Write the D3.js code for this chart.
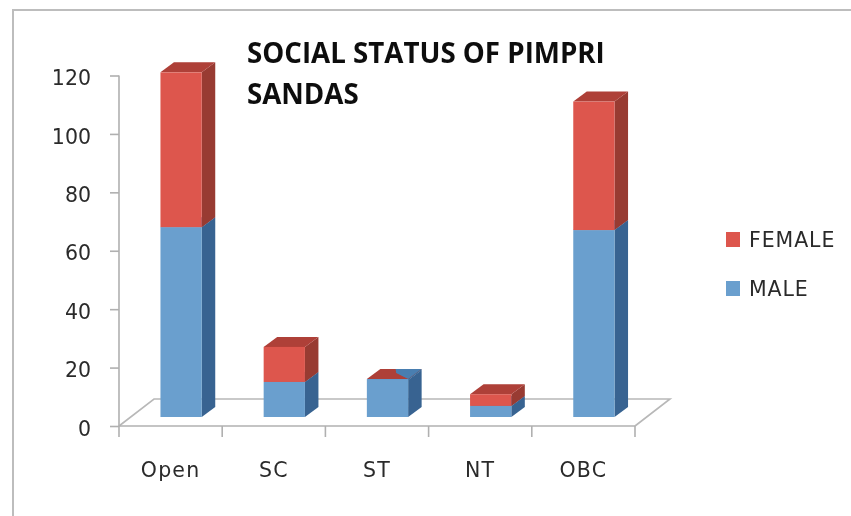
<!DOCTYPE html>
<html>
<head>
    <meta charset="utf-8">
    <style>
        body { margin: 0; padding: 0; overflow: hidden; background-color: #fff; }
        svg { display: block; }
        text { font-family: "DejaVu Sans", sans-serif; fill: #2b2b2b; }
        .title { font-family: "Open Sans", sans-serif; font-weight: 700; font-size: 27.7px; fill: #111; }
        .axis path, .axis line { stroke: #b0b0b0; stroke-width: 1.6; }
        .axis text { font-size: 20.5px; }
    </style>
</head>
<body>
    <div id="chart"></div>
    <script src="https://d3js.org/d3.v7.min.js"></script>
    <script>
        var categories = ["Open", "SC", "ST", "NT", "OBC"];
        var male = [65, 12, 12.7, 3.8, 64];
        var female = [53, 12, 0.3, 4, 44];
        var yTicks = [0, 20, 40, 60, 80, 100, 120];
        var titleLines = ["SOCIAL STATUS OF PIMPRI", "SANDAS"];
        var legendLabels = ["FEMALE", "MALE"];

        var width = 851, height = 516;
        var depthX = 13.5, depthY = 10;   // how far the 3d faces lean back
        var floorX = 35, floorY = 27;     // floor of the fake 3d box
        var baseDrop = 9;                 // front of the bars sits above the axis line

        var colors = {
            male: { front: "#6a9fce", side: "#376391", top: "#4a7eb0" },
            female: { front: "#dd574e", side: "#983a32", top: "#ae3f37" }
        };

        var svg = d3.select("#chart")
            .append("svg")
            .attr("width", width)
            .attr("height", height);

        // the reference is a soft, upscaled screenshot
        var blur = svg.append("defs").append("filter")
            .attr("id", "soft")
            .attr("x", "-5%").attr("y", "-5%")
            .attr("width", "110%").attr("height", "110%");
        blur.append("feGaussianBlur").attr("stdDeviation", 0.7);

        var g = svg.append("g").attr("filter", "url(#soft)");

        g.append("path")
            .attr("d", "M13,516V10H851")
            .attr("fill", "none")
            .attr("stroke", "#bdbdbd")
            .attr("stroke-width", 2);

        var x = d3.scaleBand().domain(categories).range([119, 635]);
        var y = d3.scaleLinear().domain([0, 120]).range([426, 75.5]);

        // floor
        var floor = d3.path();
        floor.moveTo(x.range()[0], y(0));
        floor.lineTo(x.range()[0] + floorX, y(0) - floorY);
        floor.lineTo(x.range()[1] + floorX, y(0) - floorY);
        floor.lineTo(x.range()[1], y(0));
        g.append("path")
            .attr("d", floor.toString())
            .attr("fill", "none")
            .attr("stroke", "#b8b8b8")
            .attr("stroke-width", 1.6);

        var yAxis = d3.axisLeft(y).tickValues(yTicks).tickSize(9).tickPadding(19);
        g.append("g")
            .attr("class", "axis")
            .attr("transform", "translate(" + x.range()[0] + ",0)")
            .call(yAxis)
            .call(a => a.select(".domain").attr("d", "M0," + y(120) + "V" + y(0)))
            .selectAll("text").attr("dy", "0.45em");

        var xAxis = d3.axisBottom(x).tickSize(0).tickPadding(42);
        var xg = g.append("g")
            .attr("class", "axis")
            .attr("transform", "translate(0," + y(0) + ")")
            .call(xAxis);
        xg.select(".domain").attr("d", "M" + x.range()[0] + ",0H" + x.range()[1]);
        xg.selectAll("text").attr("letter-spacing", "1.2px").attr("dy", "0.45em");

        // category separators hang below the axis
        g.append("g")
            .attr("class", "axis")
            .selectAll("line")
            .data(categories.concat([null]))
            .enter().append("line")
            .attr("x1", d => d === null ? x.range()[1] : x(d))
            .attr("x2", d => d === null ? x.range()[1] : x(d))
            .attr("y1", y(0))
            .attr("y2", y(0) + 11);

        var barW = x.bandwidth() * 0.4;
        var barShift = 10.5;

        function yBar(v) { return y(v) - baseDrop; }
        function barLeft(c) { return x(c) + x.bandwidth() / 2 - barW / 2 + barShift; }

        function poly(points) {
            return d3.line()(points) + "Z";
        }

        function drawBlock(c, from, to, col) {
            var l = barLeft(c), r = l + barW;
            var t = yBar(to), b = yBar(from);
            var block = g.append("g").attr("class", "block");
            block.append("path")
                .attr("d", poly([[r, b], [r + depthX, b - depthY], [r + depthX, t - depthY], [r, t]]))
                .attr("fill", col.side);
            block.append("path")
                .attr("d", poly([[l, t], [l + depthX, t - depthY], [r + depthX, t - depthY], [r, t]]))
                .attr("fill", col.top);
            block.append("rect")
                .attr("x", l)
                .attr("y", t)
                .attr("width", barW)
                .attr("height", b - t)
                .attr("fill", col.front);
        }

        categories.forEach(function(c, i) {
            drawBlock(c, 0, male[i], colors.male);
            drawBlock(c, male[i], male[i] + female[i], female[i] < 1
                ? { front: colors.male.front, side: colors.male.side, top: colors.female.top }
                : colors.female);
            // very thin female layer: the blue shows through its top face
            if (female[i] < 1) {
                var r = barLeft(c) + barW;
                var t = yBar(male[i] + female[i]);
                g.append("path")
                    .attr("d", poly([[r - 12.5, t - depthY], [r + depthX, t - depthY], [r, t], [r - 12, t - 6]]))
                    .attr("fill", colors.male.top);
            }
        });

        // title
        g.selectAll(".title")
            .data(titleLines)
            .enter().append("text")
            .attr("class", "title")
            .attr("x", 247)
            .attr("y", (d, i) => 63 + i * 41)
            .text(d => d);

        // legend
        var legendColors = [colors.female.front, colors.male.front];
        var legend = g.selectAll(".legend")
            .data(legendLabels)
            .enter().append("g")
            .attr("class", "legend")
            .attr("transform", (d, i) => "translate(726," + (232 + i * 49) + ")");
        legend.append("rect")
            .attr("width", 14)
            .attr("height", 15)
            .attr("fill", (d, i) => legendColors[i]);
        legend.append("text")
            .attr("x", 23)
            .attr("y", 15)
            .attr("font-size", "20.5px")
            .attr("letter-spacing", "0.9px")
            .text(d => d);
    </script>
</body>
</html>
